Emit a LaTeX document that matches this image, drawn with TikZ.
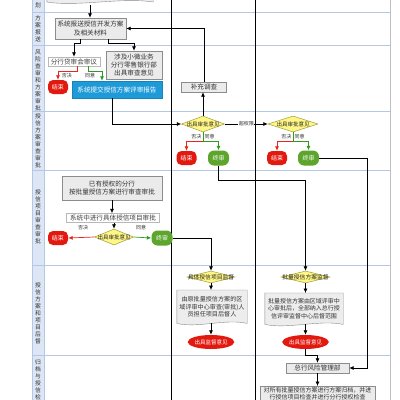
\documentclass[tikz,border=0pt]{standalone}
\usepackage{fontspec}
\newfontfamily\cjk{Noto Sans CJK SC}
\usetikzlibrary{shapes.geometric,arrows.meta,calc}
\pgfdeclarelayer{back}
\pgfdeclarelayer{bg}
\pgfsetlayers{back,bg,main}
\definecolor{lanefill}{HTML}{DCE6F5}
\definecolor{laneline}{HTML}{B4C7E7}
\definecolor{endred}{HTML}{E2190F}
\definecolor{fingreen}{HTML}{5EA52E}
\definecolor{sysblue}{HTML}{1E9AD8}
\definecolor{diafill}{HTML}{FFF685}
\definecolor{diadraw}{HTML}{9E9E3A}
\definecolor{redline}{HTML}{E8261C}
\definecolor{greenline}{HTML}{2A9D1F}
\newcommand\myfs[2]{\fontsize{#1}{#2}\selectfont}
\newcommand\docoutline[2]{%
 \begin{pgfonlayer}{bg}
 \draw[docst] (#1.south west) -- (#1.north west) -- (#1.north east) -- (#1.south east)
   .. controls ($(#1.south east)+({-0.3*#2},-5)$) and ($(#1.south west)+({0.3*#2},5)$) .. (#1.south west) -- cycle;
 \end{pgfonlayer}}
\begin{document}
\begin{tikzpicture}[x=1pt,y=-1pt,
  every node/.style={font=\cjk},
  gbox/.style={draw=black!45, fill=black!8, text=black!80, align=center, inner sep=1pt, font=\cjk\myfs{6.6}{8.3}},
  wbox/.style={draw=black!28, fill=white, text=black!75, align=center, inner sep=1pt, font=\cjk\myfs{6.6}{8.3}},
  bluebox/.style={fill=sysblue, draw=sysblue!85!black, text=white, align=center, inner sep=1pt, font=\cjk\myfs{6.6}{8.3}},
  endnode/.style={fill=endred, text=white, rounded corners=5pt, minimum width=20pt, minimum height=14pt, inner sep=0pt, font=\cjk\myfs{6}{7}},
  finnode/.style={fill=fingreen, text=white, rounded corners=6pt, minimum width=21pt, minimum height=15pt, inner sep=0pt, font=\cjk\myfs{6}{7}},
  monnode/.style={ellipse, fill=endred, text=white, minimum width=43pt, minimum height=14pt, inner sep=0pt, font=\cjk\myfs{5.5}{6.5}},
  diam/.style={diamond, fill=diafill, draw=diadraw, inner sep=0pt, line width=0.5pt},
  dtxt/.style={font=\cjk\myfs{5.5}{6.5}, inner sep=0pt, text=black!85},
  dtxt2/.style={font=\cjk\myfs{5.8}{6.5}, inner sep=0pt, text=black!85},
  lbl/.style={font=\cjk\myfs{5}{6}, inner sep=0.5pt, text=black!80},
  docn/.style={align=center, inner sep=1pt, text=black!80},
  docst/.style={draw=black!45, fill=black!7},
  lanelbl/.style={align=center, font=\cjk\myfs{5.8}{7}, text=black!80, inner sep=0pt},
  arr/.style={draw=black, line width=0.7pt, -{Latex[length=4.5pt,width=4pt]}},
  rarr/.style={draw=redline, line width=0.7pt, -{Latex[length=4.5pt,width=4pt]}},
  garr/.style={draw=greenline, line width=0.7pt, -{Latex[length=4.5pt,width=4pt]}}]
\useasboundingbox (0,0) rectangle (400,400);
\clip (0,0) rectangle (400,400);
\begin{pgfonlayer}{back}
\fill[white] (0,0) rectangle (400,400);
\fill[lanefill] (32,-1) rectangle (44,401);
\draw[laneline] (32,-1) -- (32,401) (44,-1) -- (44,401);
\foreach \yy in {12,45,111,170,265,355} \draw[laneline, line width=0.6pt] (32,\yy) -- (390,\yy);
\draw[black!25] (390,-1) -- (390,401);
\draw[black, line width=0.8pt] (171,-1) -- (171,401) (255,-1) -- (255,401);
\end{pgfonlayer}
% lane labels
\node[lanelbl] (l0) at (38,5) {划};
\node[lanelbl] (l1) at (38,29) {方\\案\\报\\送};
\node[lanelbl] (l2) at (38,80) {风\\险\\查\\审\\和\\方\\案\\审\\批};
\node[lanelbl] (l3) at (38,141) {授\\信\\方\\案\\审\\查\\审\\批};
\node[lanelbl] (l4) at (38,217) {授\\信\\项\\目\\审\\查\\审\\批};
\node[lanelbl] (l5) at (38,313) {授\\信\\方\\案\\和\\项\\目\\后\\督};
\node[lanelbl, anchor=north] (l6) at (38,359) {归\\档\\与\\授\\信\\检\\查};
% nodes
\node[docn, minimum width=106pt, minimum height=22pt, anchor=south] (docA) at (100,2) {};
\docoutline{docA}{106}
\node[gbox, minimum width=71pt, minimum height=21pt] (n2) at (90.5,28.5) {系统报送授信开发方案\\及相关材料};
\node[wbox, minimum width=52pt, minimum height=9pt] (n3) at (74,61.5) {分行贷审会审议};
\node[gbox, minimum width=56pt, minimum height=28pt] (n4) at (134,65) {涉及小微业务\\分行零售银行部\\出具审查意见};
\node[endnode] (e1) at (58,87) {结束};
\node[bluebox, minimum width=90pt, minimum height=17pt] (n6) at (117,89.5) {系统提交授信方案评审报告};
\node[gbox, minimum width=45pt, minimum height=10pt] (n8) at (204,87) {补充调查};
\node[diam, minimum width=43pt, minimum height=16pt] (d1) at (203,124) {};
\node[dtxt] (d1t) at (d1) {出具审批意见};
\node[diam, minimum width=50pt, minimum height=16pt] (d2) at (293,124) {};
\node[dtxt] (d2t) at (d2) {出具审批意见};
\node[endnode] (e2) at (186.5,158) {结束};
\node[finnode] (f1) at (218.5,158) {终审};
\node[endnode] (e3) at (277,158) {结束};
\node[finnode] (f2) at (308.5,158) {终审};
\node[gbox, minimum width=100pt, minimum height=24pt] (n9) at (112,188) {已有授权的分行\\按批量授信方案进行审查审批};
\node[wbox, minimum width=93pt, minimum height=9pt] (n10) at (113,218) {系统中进行具体授信项目审批};
\node[diam, minimum width=39pt, minimum height=16pt] (d5) at (114,237) {};
\node[dtxt] (d5t) at (d5) {出具审批意见};
\node[endnode] (e4) at (58,238) {结束};
\node[finnode] (f3) at (162,238) {终审};
\node[diam, minimum width=48pt, minimum height=12pt] (d3) at (211,277) {};
\node[dtxt2] (d3t) at (d3) {具体授信项目监督};
\node[diam, minimum width=49pt, minimum height=12pt] (d4) at (305.5,277) {};
\node[dtxt2] (d4t) at (d4) {批量授信方案监督};
\node[docn, minimum width=70pt, minimum height=33pt, anchor=north, font=\cjk\myfs{6.1}{7.5}] (docB) at (212,290) {由原批量授信方案的区\\域评审中心审查(审批)人\\员担任项目后督人};
\docoutline{docB}{70}
\node[docn, minimum width=78pt, minimum height=31pt, anchor=north, font=\cjk\myfs{6}{7.5}] (docC) at (304,293) {批量授信方案由区域评审中\\心审批后，全部纳入总行授\\信评审监督中心后督范围};
\docoutline{docC}{78}
\node[monnode] (m1) at (211,342) {出具监督意见};
\node[monnode] (m2) at (305.5,342) {出具监督意见};
\node[gbox, minimum width=63pt, minimum height=10pt] (risk) at (317.5,368) {总行风险管理部};
\node[gbox, anchor=north, minimum width=115pt, font=\cjk\myfs{6}{7.5}] (arch) at (317.5,386) {对所有批量授信方案进行方案归档，并进\\行授信项目检查并进行分行授权检查};
% connectors
\coordinate (a0) at (90,5);
\draw[arr] (a0) -- (a0 |- n2.north);
\draw[arr] ([xshift=-10pt]n2.south) -- ++(0,4) -| (n3.north);
\draw[arr] ([xshift=18pt]n2.south) -- ++(0,4) -| (n4.north);
\draw[rarr] ([xshift=3pt]n3.south) -- ++(0,5) -| (e1.north);
\draw[garr] ([xshift=14pt]n3.south) -- ++(0,5) -| ([xshift=-15pt]n6.north);
\node[lbl] (t1) at (67,75.5) {否决};
\node[lbl] (t2) at (90,76) {同意};
\draw[arr] ([xshift=-5pt]n6.south) |- (d1.west);
\draw[arr] (d1.north) -- (d1.north |- n8.south);
\draw[arr] (n8.north) |- (n2.east);
\draw[arr] (d1.east) -- node[lbl, fill=white] (t3) {超权限} (d2.west);
\draw[rarr] (d1.south) -- ++(0,9) -| (e2.north);
\draw[garr] (d1.south) -- ++(0,9) -| (f1.north);
\node[lbl, anchor=north east] (t4) at ([xshift=-1pt,yshift=-1pt]d1.south) {否决};
\node[lbl, anchor=north west] (t5) at ([xshift=1pt,yshift=-1pt]d1.south) {同意};
\draw[rarr] (d2.south) -- ++(0,9) -| (e3.north);
\draw[garr] (d2.south) -- ++(0,9) -| (f2.north);
\node[lbl, anchor=north east] (t6) at ([xshift=-1pt,yshift=-1pt]d2.south) {否决};
\node[lbl, anchor=north west] (t7) at ([xshift=1pt,yshift=-1pt]d2.south) {同意};
\draw[arr] (f1.south) -- ++(0,15) -| (d4.north);
\draw[arr] (f2.east) -- ++(48.5,0) |- (risk.east);
\draw[arr] (n9.south) -- (n9.south |- n10.north);
\draw[arr] (n10.south -| d5.north) -- (d5.north);
\draw[rarr] (d5.west) -- (e4.east);
\draw[garr] (d5.east) -- (f3.west);
\node[lbl] (t8) at (83,228) {否决};
\node[lbl] (t9) at (141,228) {同意};
\draw[arr] (f3.east) -| (d3.north);
\draw[arr] (d3.south) -- (d3.south |- docB.north);
\draw[arr] (m1.north |- docB.south) -- (m1.north);
\draw[arr] (d4.south) -- (d4.south |- docC.north);
\draw[arr] (m2.north |- docC.south) -- (m2.north);
\draw[arr] (m2.south) -- ++(0,6) -| (risk.north);
\draw[arr] (risk.south) -- (arch.north);
\end{tikzpicture}
\end{document}
